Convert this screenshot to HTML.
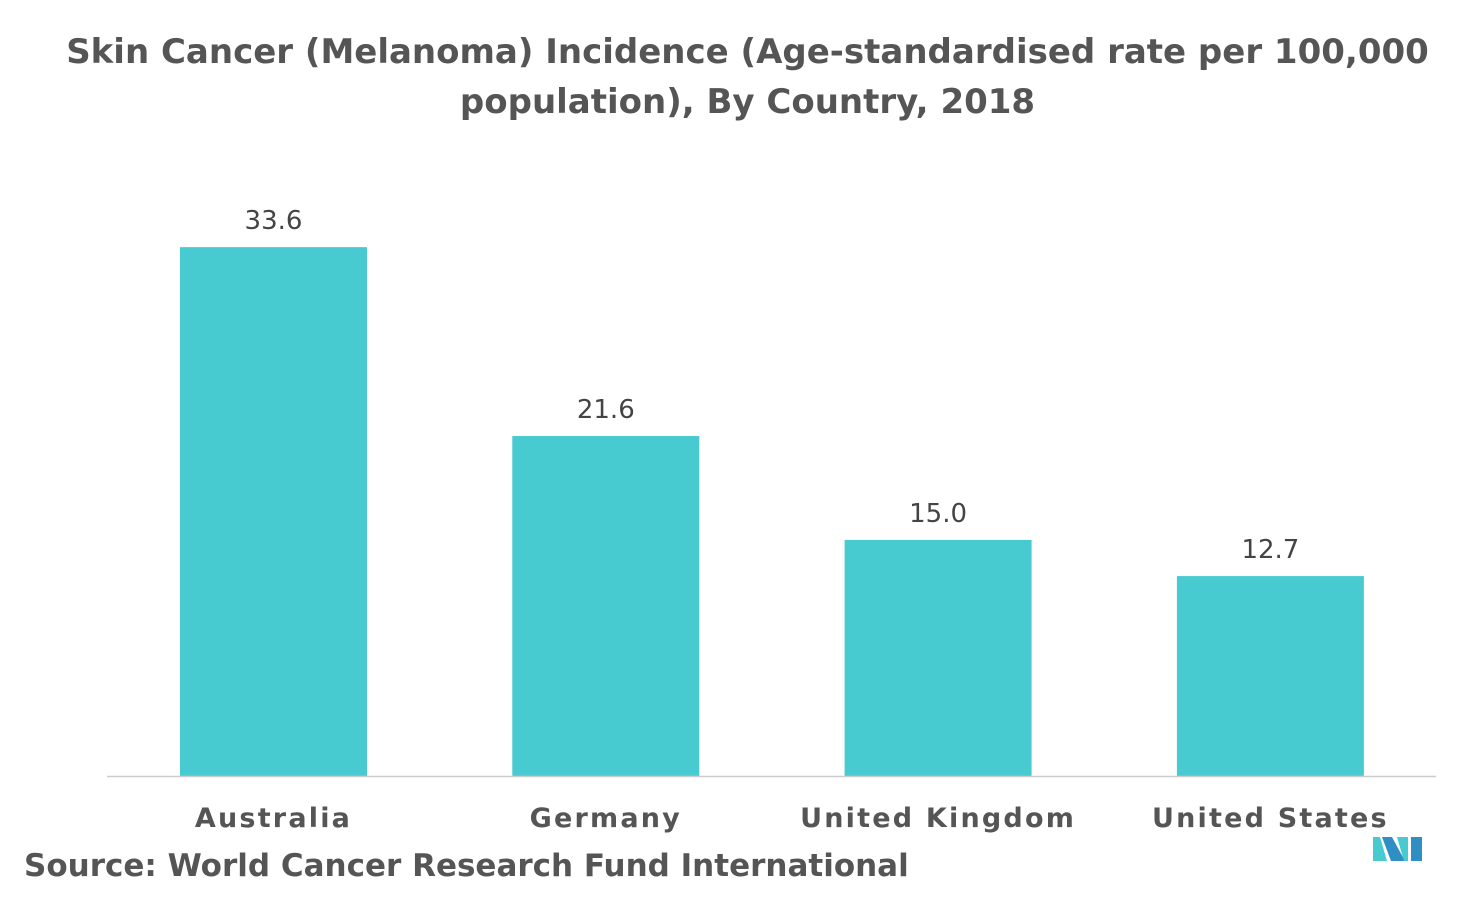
<!DOCTYPE html>
<html><head><meta charset="utf-8"><style>
body{margin:0;width:1473px;height:912px;background:#fff;overflow:hidden;font-family:"DejaVu Sans","Liberation Sans",sans-serif;}
#title{position:absolute;left:0;top:27px;width:1495px;text-align:center;font-size:34px;font-weight:bold;color:#555;line-height:50px;}
#source{position:absolute;left:24px;top:848px;font-size:31px;font-weight:bold;color:#555;}
svg{position:absolute;left:0;top:0;}
</style></head><body>
<div id="title">Skin Cancer (Melanoma) Incidence (Age-standardised rate per 100,000<br>population), By Country, 2018</div>
<svg id="chart" width="1473" height="912"></svg>
<div id="source">Source: World Cancer Research Fund International</div>
<script>
const categories=["Australia","Germany","United Kingdom","United States"];
const values=[33.6,21.6,15.0,12.7];
const labels=["33.6","21.6","15.0","12.7"];
const svg=document.getElementById('chart');const NS='http://www.w3.org/2000/svg';
const base=776,scale=15.74,x0=180,step=332.3,bw=187;
function y(v){return base-v*scale;}
function mk(t,a){const e=document.createElementNS(NS,t);for(const k in a)e.setAttribute(k,a[k]);svg.appendChild(e);return e;}
categories.forEach((c,i)=>{
const x=x0+i*step;
const r=mk('rect',{x:x,y:y(values[i]),width:bw,height:base-y(values[i]),fill:'#48cbd0'});


const t=mk('text',{x:x+bw/2,y:y(values[i])-18,'text-anchor':'middle','font-size':'26','fill':'#444','font-family':'DejaVu Sans, Liberation Sans, sans-serif'});
t.textContent=labels[i];


const l=mk('text',{x:x+bw/2,y:827,'text-anchor':'middle','font-size':'27','font-weight':'bold','fill':'#555','letter-spacing':'2.2','font-family':'DejaVu Sans, Liberation Sans, sans-serif'});
l.textContent=c;


});
const ax=mk('line',{x1:107,x2:1436,y1:776.5,y2:776.5,stroke:'#ccc','stroke-width':'1.5'});


const g=mk('g',{});


g.innerHTML='<polygon points="1373,837 1380,837 1387,861 1373,861" fill="#48cbd0"/><polygon points="1382,837 1392,837 1405,861 1391,861" fill="#2f8fc4"/><polygon points="1397,837 1408,837 1408,861 1404,861" fill="#48cbd0"/><polygon points="1411,837 1422,837 1422,861 1411,861" fill="#2f8fc4"/>';
</script>
</body></html>
